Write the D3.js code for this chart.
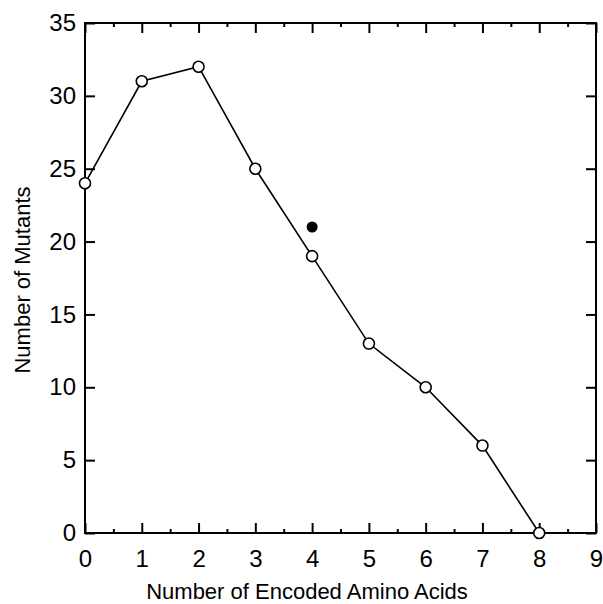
<!DOCTYPE html>
<html><head><meta charset="utf-8">
<script src="https://cdn.jsdelivr.net/npm/d3@7"></script>
<style>body{margin:0;background:#fff}svg{display:block}text{font-family:"Liberation Sans",Arial,sans-serif;fill:#000}</style>
</head><body><svg id="c" width="603" height="604"></svg>
<script>
const xValues = [0,1,2,3,4,5,6,7,8];
const mutants = [24,31,32,25,19,13,10,6,0];
const extraX = [4];
const extraY = [21];
const xTicks = [0,1,2,3,4,5,6,7,8,9];
const yTicks = [0,5,10,15,20,25,30,35];

const svg = d3.select("#c");
const L=85,R=596,T=23,B=533;
const x = d3.scaleLinear().domain([0,9]).range([L,R]);
const y = d3.scaleLinear().domain([0,35]).range([B,T]);

// frame
svg.append("rect").attr("x",L).attr("y",T).attr("width",R-L).attr("height",B-T)
  .attr("fill","none").attr("stroke","#000").attr("stroke-width",2);

const minorX = d3.range(0.5,9,1);
// bottom axis
const gB = svg.append("g").attr("transform",`translate(0,${B})`);
gB.call(d3.axisBottom(x).tickValues(xTicks).tickSize(-10).tickPadding(17).tickFormat(d3.format("d")));
gB.append("g").call(d3.axisBottom(x).tickValues(minorX).tickSize(-4).tickFormat(""));
// top axis
const gT = svg.append("g").attr("transform",`translate(0,${T})`);
gT.call(d3.axisTop(x).tickValues(xTicks).tickSize(-10).tickFormat(""));
gT.append("g").call(d3.axisTop(x).tickValues(minorX).tickSize(-4).tickFormat(""));
// left axis
const gL = svg.append("g").attr("transform",`translate(${L},0)`);
gL.call(d3.axisLeft(y).tickValues(yTicks).tickSize(-10).tickPadding(9).tickFormat(d3.format("d")));
// right axis
const gR = svg.append("g").attr("transform",`translate(${R},0)`);
gR.call(d3.axisRight(y).tickValues(yTicks).tickSize(-10).tickFormat(""));

svg.selectAll(".domain").remove();
svg.selectAll(".tick line").attr("stroke","#000").attr("stroke-width",2);
svg.selectAll(".tick text").attr("font-size",24).attr("font-family","Liberation Sans, Arial, sans-serif");

// line
const pts = xValues.map((v,i)=>[v,mutants[i]]);
svg.append("path").datum(pts)
  .attr("d",d3.line().x(d=>x(d[0])).y(d=>y(d[1])))
  .attr("fill","none").attr("stroke","#000").attr("stroke-width",1.6);
svg.selectAll("circle.o").data(pts).enter().append("circle")
  .attr("class","o").attr("cx",d=>x(d[0])).attr("cy",d=>y(d[1])).attr("r",5.5)
  .attr("fill","#fff").attr("stroke","#000").attr("stroke-width",1.6);
svg.selectAll("circle.f").data(extraX.map((v,i)=>[v,extraY[i]])).enter().append("circle")
  .attr("class","f").attr("cx",d=>x(d[0])).attr("cy",d=>y(d[1])).attr("r",5.5)
  .attr("fill","#000");

// labels
svg.append("text").attr("x",307).attr("y",599).attr("text-anchor","middle")
  .attr("font-size",22).text("Number of Encoded Amino Acids");
svg.append("text").attr("transform",`translate(30,280) rotate(-90)`)
  .attr("text-anchor","middle").attr("font-size",22).text("Number of Mutants");
</script></body></html>
